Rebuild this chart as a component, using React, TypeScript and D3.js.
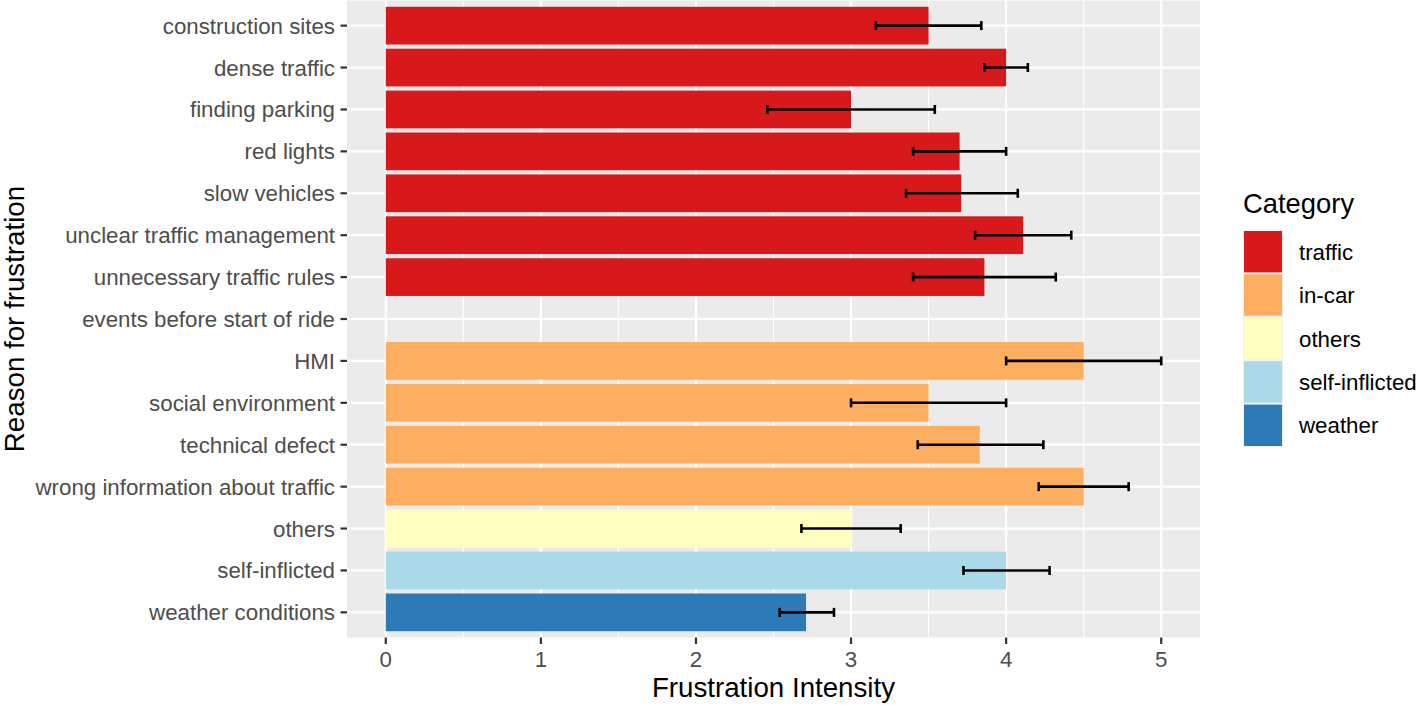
import React from "react";
import * as d3 from "d3";

const reasons = [
  "construction sites",
  "dense traffic",
  "finding parking",
  "red lights",
  "slow vehicles",
  "unclear traffic management",
  "unnecessary traffic rules",
  "events before start of ride",
  "HMI",
  "social environment",
  "technical defect",
  "wrong information about traffic",
  "others",
  "self-inflicted",
  "weather conditions",
];
const categoryOf = [
  "traffic", "traffic", "traffic", "traffic", "traffic", "traffic", "traffic", "traffic",
  "in-car", "in-car", "in-car", "in-car",
  "others", "self-inflicted", "weather",
];
const means: (number | null)[] = [3.5, 4.0, 3.0, 3.7, 3.71, 4.11, 3.86, null, 4.5, 3.5, 3.83, 4.5, 3.0, 4.0, 2.71];
const lowers: (number | null)[] = [3.16, 3.86, 2.46, 3.4, 3.355, 3.8, 3.4, null, 4.0, 3.0, 3.43, 4.21, 2.68, 3.725, 2.54];
const uppers: (number | null)[] = [3.84, 4.14, 3.54, 4.0, 4.075, 4.42, 4.32, null, 5.0, 4.0, 4.24, 4.79, 3.32, 4.28, 2.89];

const categories = ["traffic", "in-car", "others", "self-inflicted", "weather"];
const colors = ["#D7191C", "#FDAE61", "#FFFFBF", "#ABD9E9", "#2C7BB6"];
const xTicks = [0, 1, 2, 3, 4, 5];

const W = 1418, H = 705;
const panel = { left: 347, right: 1200, top: 0.5, bottom: 637.5 };

export default function App() {
  const x = d3.scaleLinear().domain([-0.25, 5.25]).range([panel.left, panel.right]);
  const n = reasons.length;
  const step = (panel.bottom - panel.top) / (n - 1 + 1.2);
  const y = d3.scalePoint().domain(reasons).range([panel.top + 0.6 * step, panel.bottom - 0.6 * step]);
  const yc = (i: number) => y(reasons[i]) as number;
  const barH = step * 0.9;
  const color = d3.scaleOrdinal<string, string>().domain(categories).range(colors);
  const minor = [0.5, 1.5, 2.5, 3.5, 4.5];
  const font = "Liberation Sans, Arial, sans-serif";
  const legendTop = 230;
  const keyH = 43.4;
  const tickFs = 22.3;

  return (
    <svg width={W} height={H} style={{ display: "block", position: "absolute", left: 0, top: 0 }} fontFamily={font}>
      <rect x={0} y={0} width={W} height={H} fill="white" />
      <rect x={panel.left} y={panel.top} width={panel.right - panel.left} height={panel.bottom - panel.top} fill="#EBEBEB" />
      {minor.map((m) => (
        <line key={"mn" + m} x1={x(m)} x2={x(m)} y1={panel.top} y2={panel.bottom} stroke="white" strokeWidth={1.1} />
      ))}
      {xTicks.map((t) => (
        <line key={"mj" + t} x1={x(t)} x2={x(t)} y1={panel.top} y2={panel.bottom} stroke="white" strokeWidth={2.2} />
      ))}
      {reasons.map((r, i) => (
        <line key={"hy" + r} x1={panel.left} x2={panel.right} y1={yc(i)} y2={yc(i)} stroke="white" strokeWidth={2.2} />
      ))}
      {reasons.map((r, i) =>
        means[i] == null ? null : (
          <rect
            key={"b" + r}
            x={x(0)}
            y={yc(i) - barH / 2}
            width={x(means[i] as number) - x(0)}
            height={barH}
            fill={color(categoryOf[i])}
          />
        )
      )}
      {reasons.map((r, i) =>
        lowers[i] == null ? null : (
          <g key={"e" + r} stroke="black" strokeWidth={2.6}>
            <line x1={x(lowers[i] as number)} x2={x(uppers[i] as number)} y1={yc(i)} y2={yc(i)} />
            <line x1={x(lowers[i] as number)} x2={x(lowers[i] as number)} y1={yc(i) - 4.5} y2={yc(i) + 4.5} />
            <line x1={x(uppers[i] as number)} x2={x(uppers[i] as number)} y1={yc(i) - 4.5} y2={yc(i) + 4.5} />
          </g>
        )
      )}
      {/* y axis */}
      {reasons.map((r, i) => (
        <g key={"yt" + r}>
          <line x1={panel.left - 6.5} x2={panel.left} y1={yc(i)} y2={yc(i)} stroke="#333333" strokeWidth={2.2} />
          <text x={panel.left - 12} y={yc(i)} dy="0.36em" textAnchor="end" fontSize={tickFs} fill="#4D4D4D">
            {r}
          </text>
        </g>
      ))}
      {/* x axis */}
      {xTicks.map((t) => (
        <g key={"xt" + t}>
          <line x1={x(t)} x2={x(t)} y1={panel.bottom} y2={panel.bottom + 6.5} stroke="#333333" strokeWidth={2.2} />
          <text x={x(t)} y={666.7} textAnchor="middle" fontSize={tickFs} fill="#4D4D4D">
            {t}
          </text>
        </g>
      ))}
      <text x={(panel.left + panel.right) / 2} y={696.7} textAnchor="middle" fontSize={27.7} fill="black">
        Frustration Intensity
      </text>
      <text
        transform={`translate(23.5, ${(panel.top + panel.bottom) / 2}) rotate(-90)`}
        textAnchor="middle"
        fontSize={27.7}
        fill="black"
      >
        Reason for frustration
      </text>
      {/* legend */}
      <text x={1243} y={213} fontSize={27.4} fill="black">
        Category
      </text>
      {categories.map((c, i) => (
        <g key={"lg" + c}>
          <rect x={1243} y={legendTop + i * keyH} width={40} height={keyH} fill="#F2F2F2" />
          <rect x={1244} y={legendTop + i * keyH + 1} width={38} height={keyH - 2} fill={color(c)} />
          <text x={1299} y={legendTop + i * keyH + keyH / 2} dy="0.36em" fontSize={tickFs} fill="black">
            {c}
          </text>
        </g>
      ))}
    </svg>
  );
}
